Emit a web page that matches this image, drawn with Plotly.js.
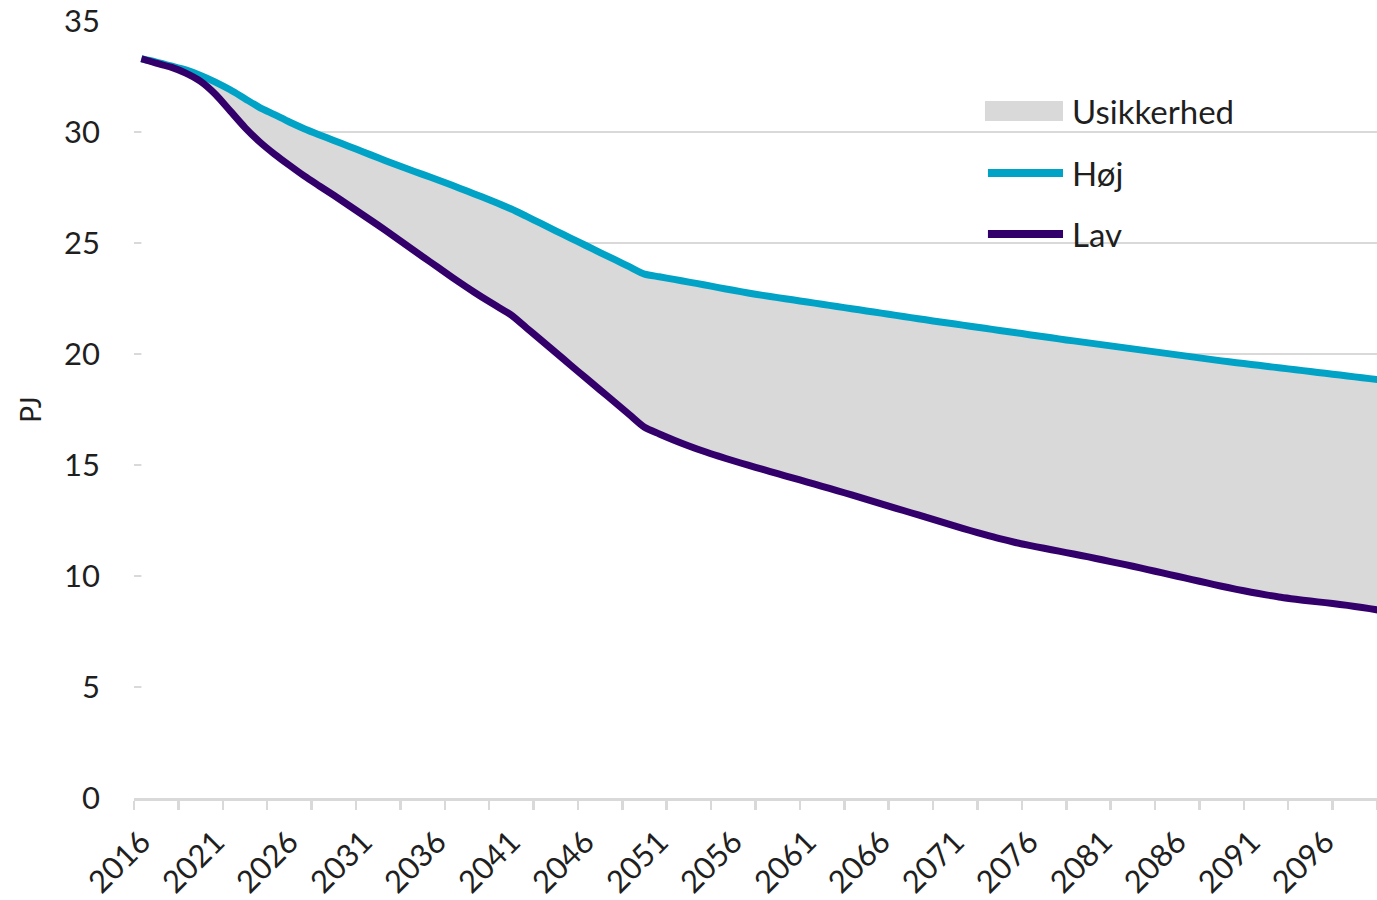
<!DOCTYPE html>
<html>
<head>
<meta charset="utf-8">
<script src="https://cdn.plot.ly/plotly-3.0.1.min.js"></script>
<style>html,body{margin:0;padding:0;background:#fff;}#chart{width:1377px;height:900px;}</style>
</head>
<body>
<div id="chart"></div>
<script>
// Years 2016..2100 (the 2100 value sits just past the right edge of the plot, which clips it)
const years = [];
for (let y = 2016; y <= 2100; y++) years.push(y);

const hoj = [
  33.3, 33.15, 32.98, 32.8, 32.55, 32.25, 31.9, 31.5, 31.1, 30.78,       // 2016-2025
  30.45, 30.15, 29.88, 29.62, 29.36, 29.1, 28.84, 28.58, 28.33, 28.09,   // 2026-2035
  27.85, 27.6, 27.34, 27.08, 26.81, 26.53, 26.21, 25.88, 25.55, 25.22,   // 2036-2045
  24.9, 24.57, 24.25, 23.92, 23.6, 23.48, 23.36, 23.24, 23.12, 22.99,    // 2046-2055
  22.87, 22.75, 22.64, 22.54, 22.44, 22.34, 22.24, 22.14, 22.04, 21.94,  // 2056-2065
  21.84, 21.74, 21.64, 21.54, 21.44, 21.35, 21.25, 21.16, 21.06, 20.97,  // 2066-2075
  20.87, 20.78, 20.68, 20.59, 20.5, 20.41, 20.32, 20.23, 20.14, 20.05,   // 2076-2085
  19.96, 19.87, 19.78, 19.69, 19.61, 19.53, 19.45, 19.37, 19.29, 19.21,  // 2086-2095
  19.13, 19.05, 18.97, 18.89, 18.81                                      // 2096-2100
];

const lav = [
  33.3, 33.1, 32.92, 32.65, 32.28, 31.7, 30.95, 30.2, 29.55, 29.0,       // 2016-2025
  28.5, 28.02, 27.58, 27.15, 26.7, 26.25, 25.8, 25.33, 24.86, 24.39,     // 2026-2035
  23.92, 23.45, 23.0, 22.57, 22.16, 21.75, 21.19, 20.63, 20.07, 19.5,    // 2036-2045
  18.94, 18.38, 17.82, 17.26, 16.7, 16.4, 16.12, 15.86, 15.62, 15.4,     // 2046-2055
  15.19, 14.99, 14.8, 14.61, 14.42, 14.23, 14.04, 13.85, 13.65, 13.45,   // 2056-2065
  13.25, 13.05, 12.85, 12.65, 12.45, 12.25, 12.05, 11.86, 11.68, 11.52,  // 2066-2075
  11.38, 11.25, 11.12, 10.99, 10.86, 10.72, 10.58, 10.44, 10.29, 10.14,  // 2076-2085
  9.99, 9.84, 9.69, 9.54, 9.4, 9.27, 9.15, 9.04, 8.95, 8.87,             // 2086-2095
  8.8, 8.72, 8.63, 8.53, 8.42                                            // 2096-2100
];

const yTickVals = [0, 5, 10, 15, 20, 25, 30, 35];
const xTickVals = [2016, 2021, 2026, 2031, 2036, 2041, 2046, 2051, 2056, 2061, 2066, 2071, 2076, 2081, 2086, 2091, 2096];
const legendNames = ['Usikkerhed', 'Høj', 'Lav'];

const cHoj = '#00A3C6';
const cLav = '#33006B';
const cBand = '#D9D9D9';
const FONT = 'Lato, "Open Sans", sans-serif';
const TXT = '#1f1f1f';

const traces = [
  { x: years, y: lav, type: 'scatter', mode: 'lines', fill: 'tozeroy', fillcolor: '#ffffff',
    line: { width: 0, color: '#ffffff', shape: 'spline', smoothing: 0.7 }, showlegend: false, hoverinfo: 'skip' },
  { x: years, y: hoj, type: 'scatter', mode: 'lines', fill: 'tonexty', fillcolor: cBand, name: legendNames[0],
    line: { width: 0, color: cBand, shape: 'spline', smoothing: 0.7 }, showlegend: false },
  { x: years, y: hoj, type: 'scatter', mode: 'lines', name: legendNames[1],
    line: { width: 7, color: cHoj, shape: 'spline', smoothing: 0.7 }, showlegend: false },
  { x: years, y: lav, type: 'scatter', mode: 'lines', name: legendNames[2],
    line: { width: 7, color: cLav, shape: 'spline', smoothing: 0.7 }, showlegend: false }
];

const layout = {
  width: 1377, height: 900,
  margin: { l: 134, r: 0, t: 21, b: 102 },
  paper_bgcolor: '#ffffff', plot_bgcolor: '#ffffff',
  font: { family: FONT, size: 30, color: TXT },
  showlegend: false,
  xaxis: {
    range: [2015.5, 2099.5],
    tickmode: 'array', tickvals: xTickVals, ticktext: xTickVals.map(String),
    tickangle: -45, ticks: '', ticklabelstandoff: 11,
    showgrid: false, zeroline: false,
    showline: true, linecolor: '#D9D9D9', linewidth: 2.5,
    tickfont: { family: FONT, size: 31, color: TXT },
    minor: { ticks: 'outside', ticklen: 9, tickwidth: 2.5, tickcolor: '#D9D9D9', tick0: 2015.5, dtick: 3, showgrid: false },
    fixedrange: true
  },
  yaxis: {
    range: [0, 35],
    tickmode: 'array', tickvals: yTickVals,
    ticks: '', ticklabelstandoff: 33,
    showgrid: true, gridcolor: '#D9D9D9', gridwidth: 2,
    zeroline: false, showline: false,
    tickfont: { family: FONT, size: 31, color: TXT },
    title: { text: 'PJ', font: { family: FONT, size: 28, color: TXT }, standoff: 14 },
    fixedrange: true
  },
  shapes: [
    { type: 'rect', xref: 'paper', yref: 'paper', x0: 0.6846, x1: 0.7474, y0: 0.8713, y1: 0.8970,
      fillcolor: cBand, line: { width: 0 } },
    { type: 'line', xref: 'paper', yref: 'paper', x0: 0.6870, x1: 0.7474, y0: 0.8044, y1: 0.8044,
      line: { color: cHoj, width: 8 } },
    { type: 'line', xref: 'paper', yref: 'paper', x0: 0.6870, x1: 0.7474, y0: 0.7259, y1: 0.7259,
      line: { color: cLav, width: 8 } }
  ],
  annotations: legendNames.map((t, i) => ({
    text: t, xref: 'paper', yref: 'paper', x: 0.7530, y: [0.8842, 0.8044, 0.7259][i],
    xanchor: 'left', yanchor: 'middle', showarrow: false,
    font: { family: FONT, size: 33, color: TXT }
  }))
};

Plotly.newPlot('chart', traces, layout, { displayModeBar: false, staticPlot: true });
</script>
</body>
</html>
